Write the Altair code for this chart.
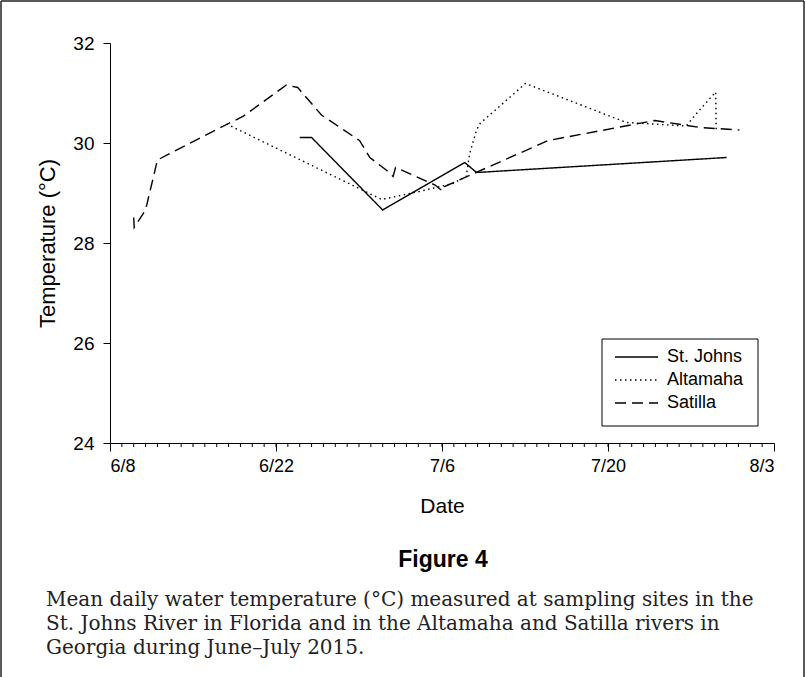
import altair as alt
import pandas as pd

series_names = ["St. Johns", "Altamaha", "Satilla"]

stjohns_dates = ["2015-06-24T00:00", "2015-06-25T00:00", "2015-07-01T00:00",
                 "2015-07-07T22:00", "2015-07-08T22:00", "2015-07-30T00:00"]
stjohns_temp = [30.11, 30.11, 28.66, 29.61, 29.41, 29.71]

altamaha_dates = ["2015-06-17T20:00", "2015-06-30T22:00", "2015-07-04T02:00",
                  "2015-07-06T22:00", "2015-07-08T01:00", "2015-07-08T08:00",
                  "2015-07-08T22:00", "2015-07-09T05:00", "2015-07-13T01:00",
                  "2015-07-21T13:00", "2015-07-23T19:00", "2015-07-26T14:00",
                  "2015-07-27T12:00", "2015-07-29T02:00", "2015-07-29T03:00"]
altamaha_temp = [30.38, 28.87, 29.03, 29.19, 29.33, 29.79, 30.26, 30.39, 31.19,
                 30.41, 30.38, 30.34, 30.60, 31.02, 30.26]

satilla_dates = ["2015-06-10T00:00", "2015-06-10T01:00", "2015-06-11T00:00",
                 "2015-06-12T00:00", "2015-06-18T00:00", "2015-06-19T05:00",
                 "2015-06-22T21:00", "2015-06-23T20:00", "2015-06-25T20:00",
                 "2015-06-29T01:00", "2015-06-29T22:00", "2015-07-01T07:00",
                 "2015-07-01T21:00", "2015-07-02T02:00", "2015-07-05T10:00",
                 "2015-07-06T01:00", "2015-07-06T05:00", "2015-07-14T23:00",
                 "2015-07-23T23:00", "2015-07-27T18:00", "2015-07-31T02:00"]
satilla_temp = [28.51, 28.31, 28.66, 29.66, 30.39, 30.53, 31.16, 31.11, 30.56,
                30.05, 29.71, 29.46, 29.33, 29.51, 29.16, 29.04, 29.13, 30.05,
                30.45, 30.31, 30.26]

major_ticks = ["2015-06-08T00:00", "2015-06-22T00:00", "2015-07-06T00:00",
               "2015-07-20T00:00", "2015-08-03T00:00"]
y_ticks = [24, 26, 28, 30, 32]

caption_title = "Figure 4"
caption_lines = [
    "Mean daily water temperature (\u00b0C) measured at sampling sites in the",
    "St. Johns River in Florida and in the Altamaha and Satilla rivers in",
    "Georgia during June\u2013July 2015.",
]

dash_styles = {"St. Johns": [1, 0], "Altamaha": [1.5, 3.5], "Satilla": [11, 6]}

rows = []
for name, dates, temps in [("St. Johns", stjohns_dates, stjohns_temp),
                           ("Altamaha", altamaha_dates, altamaha_temp),
                           ("Satilla", satilla_dates, satilla_temp)]:
    for i, (d, t) in enumerate(zip(dates, temps)):
        rows.append({"series": name, "date": d, "temp": t, "idx": i})
df = pd.DataFrame(rows)

minor = pd.DataFrame({"date": [d.strftime("%Y-%m-%dT%H:%M")
                               for d in pd.date_range("2015-06-09", "2015-08-02", freq="D")]})

W, H = 664, 400
PL, PT = 110, 43

x_scale = alt.Scale(domain=[alt.DateTime(year=2015, month=6, date=8),
                            alt.DateTime(year=2015, month=8, date=3)], nice=False)
y_scale = alt.Scale(domain=[24, 32], nice=False, zero=False)

lines = alt.Chart(df).mark_line(color="black", strokeWidth=1.4, strokeCap="butt").encode(
    x=alt.X("date:T", scale=x_scale,
            axis=alt.Axis(values=major_ticks, format="%-m/%-d", title="Date",
                          tickSize=8, labelPadding=6, titlePadding=20,
                          labelFontSize=18, titleFontSize=21, titleFontWeight="normal",
                          grid=False)),
    y=alt.Y("temp:Q", scale=y_scale,
            axis=alt.Axis(values=y_ticks, format="d", title="Temperature (\u00b0C)",
                          tickSize=7, labelPadding=9, titlePadding=13,
                          labelFontSize=19, titleFontSize=22, titleFontWeight="normal",
                          grid=False)),
    strokeDash=alt.StrokeDash("series:N",
                              scale=alt.Scale(domain=series_names,
                                              range=[dash_styles[s] for s in series_names]),
                              legend=None),
    detail="series:N",
    order="idx:Q",
)

minor_ticks = alt.Chart(minor).mark_rule(color="black", strokeWidth=1).encode(
    x=alt.X("date:T", scale=x_scale),
    y=alt.value(H), y2=alt.value(H + 4),
)

one = alt.Data(values=[{"a": 0}])

def rule(**kw):
    return alt.Chart(one).mark_rule(color="#222", strokeWidth=1.5).encode(**kw)

border = [
    rule(x=alt.value(-PL + 1), y=alt.value(-PT + 1), y2=alt.value(700)),
    rule(x=alt.value(806 - PL - 2), y=alt.value(-PT + 1), y2=alt.value(700)),
    rule(x=alt.value(-PL + 1), x2=alt.value(806 - PL - 2), y=alt.value(-PT + 1)),
]

# legend (annotation)
LX0, LX1, LY0, LY1 = 602 - PL, 758 - PL, 339 - PT, 426 - PT
legend_box = alt.Chart(one).mark_rect(fill=None, stroke="black", strokeWidth=1).encode(
    x=alt.value(LX0), x2=alt.value(LX1), y=alt.value(LY0), y2=alt.value(LY1))
legend_layers = [legend_box]
for i, s in enumerate(series_names):
    ly = 357 - PT + 23 * i
    legend_layers.append(
        alt.Chart(one).mark_rule(color="black", strokeWidth=1.4,
                                 strokeDash=dash_styles[s], strokeCap="butt").encode(
            x=alt.value(615 - PL), x2=alt.value(658 - PL), y=alt.value(ly)))
    legend_layers.append(
        alt.Chart(one).mark_text(align="left", baseline="middle", fontSize=18,
                                 font="Liberation Sans", color="black").encode(
            x=alt.value(667 - PL), y=alt.value(ly), text=alt.value(s)))

caption = [
    alt.Chart(one).mark_text(align="center", baseline="middle", fontSize=23,
                             fontWeight="bold", font="Liberation Sans",
                             color="black").encode(
        x=alt.value(443 - PL), y=alt.value(560 - PT), text=alt.value(caption_title))
]
for i, line in enumerate(caption_lines):
    caption.append(
        alt.Chart(one).mark_text(align="left", baseline="middle", fontSize=20,
                                 font="DejaVu Serif", color="#222").encode(
            x=alt.value(46 - PL), y=alt.value(600 - PT + 24 * i), text=alt.value(line)))

chart = alt.layer(lines, minor_ticks, *border, *legend_layers, *caption).properties(
    width=W, height=H,
    autosize=alt.AutoSizeParams(type="none"),
    padding={"left": PL, "top": PT, "right": 806 - PL - W, "bottom": 677 - PT - H},
    background="white",
).configure_view(stroke=None).configure_axis(
    domainColor="black", tickColor="black", labelColor="black", titleColor="black",
    labelFont="Liberation Sans", titleFont="Liberation Sans", domainWidth=1, tickWidth=1,
)

chart.save("out.html", embed_options={"renderer": "svg", "actions": False})
